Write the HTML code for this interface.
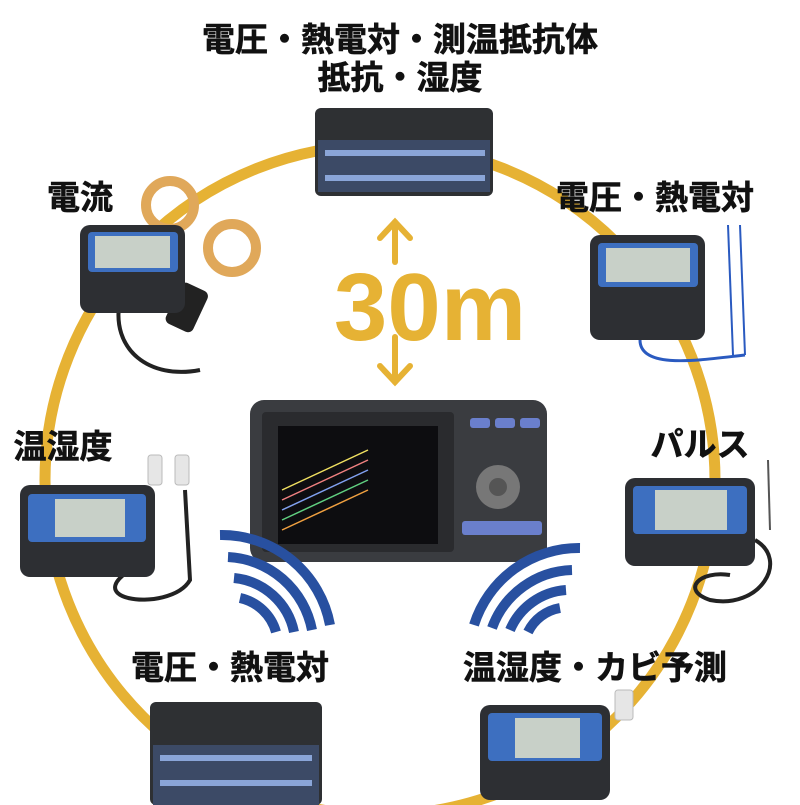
<!DOCTYPE html>
<html><head><meta charset="utf-8"><style>
html,body{margin:0;padding:0;background:#fff;}
svg{display:block}
text{font-family:"Liberation Sans","Noto Sans CJK JP",sans-serif;font-weight:bold;}
</style></head><body>
<svg width="800" height="805" viewBox="0 0 800 805" xmlns="http://www.w3.org/2000/svg">
<circle cx="380" cy="480" r="335" fill="none" stroke="#e6b234" stroke-width="11"/>
<g font-size="33" fill="#111" stroke="#111" stroke-width="0.6">
<text x="400" y="51" text-anchor="middle">電圧・熱電対・測温抵抗体</text>
<text x="400" y="89" text-anchor="middle">抵抗・湿度</text>
<text x="80" y="209" text-anchor="middle">電流</text>
<text x="655" y="209" text-anchor="middle">電圧・熱電対</text>
<text x="63" y="458" text-anchor="middle">温湿度</text>
<text x="700" y="456" text-anchor="middle">パルス</text>
<text x="230" y="679" text-anchor="middle">電圧・熱電対</text>
<text x="595" y="679" text-anchor="middle">温湿度・カビ予測</text>
</g>
<text x="430" y="340" text-anchor="middle" font-size="96" fill="#e6b234" font-family="Liberation Sans,sans-serif">30m</text>
<g stroke="#e6b234" stroke-width="6" fill="none" stroke-linecap="round">
<line x1="395" y1="222" x2="395" y2="262"/><polyline points="380,238 395,222 410,238"/>
<line x1="395" y1="337" x2="395" y2="382"/><polyline points="380,366 395,382 410,366"/>
</g>
<rect x="315" y="108" width="178" height="88" rx="6" fill="#2e3033"/>
<rect x="318" y="140" width="172" height="52" fill="#3c4a66"/>
<g fill="#8aa5d8"><rect x="325" y="150" width="160" height="6"/><rect x="325" y="175" width="160" height="6"/></g>
<rect x="250" y="400" width="297" height="162" rx="14" fill="#3a3c40"/>
<rect x="262" y="412" width="192" height="140" rx="4" fill="#2a2b2e"/>
<rect x="278" y="426" width="160" height="118" fill="#0d0d10"/>
<g stroke-width="1.5">
<line x1="282" y1="490" x2="368" y2="450" stroke="#f0e060"/>
<line x1="282" y1="500" x2="368" y2="460" stroke="#f08080"/>
<line x1="282" y1="510" x2="368" y2="470" stroke="#80a0f0"/>
<line x1="282" y1="520" x2="368" y2="480" stroke="#60d080"/>
<line x1="282" y1="530" x2="368" y2="490" stroke="#f0a040"/>
</g>
<g fill="#6a7fcc"><rect x="470" y="418" width="20" height="10" rx="3"/><rect x="495" y="418" width="20" height="10" rx="3"/><rect x="520" y="418" width="20" height="10" rx="3"/>
<rect x="462" y="521" width="80" height="14" rx="3"/></g>
<circle cx="498" cy="487" r="22" fill="#777"/><circle cx="498" cy="487" r="9" fill="#555"/>
<g fill="none" stroke="#2850a0" stroke-width="10">
<path d="M220,535 A110,110 0 0 1 330,625"/>
<path d="M228,557 A90,90 0 0 1 312,630"/>
<path d="M234,578 A68,68 0 0 1 294,632"/>
<path d="M240,598 A48,48 0 0 1 276,632"/>
<path d="M580,548 A110,110 0 0 0 474,625"/>
<path d="M572,570 A88,88 0 0 0 492,628"/>
<path d="M566,590 A66,66 0 0 0 510,630"/>
<path d="M560,608 A44,44 0 0 0 528,632"/>
</g>
<g>
<circle cx="170" cy="205" r="24" fill="none" stroke="#e0a85a" stroke-width="10"/>
<circle cx="232" cy="248" r="24" fill="none" stroke="#e0a85a" stroke-width="10"/>
<rect x="172" y="285" width="30" height="45" rx="6" fill="#222" transform="rotate(25 187 307)"/>
<path d="M120,300 C110,350 150,380 200,370" fill="none" stroke="#222" stroke-width="4"/>
<rect x="80" y="225" width="105" height="88" rx="10" fill="#2d2f33"/>
<rect x="88" y="232" width="90" height="40" rx="4" fill="#3d6fc0"/>
<rect x="95" y="236" width="75" height="32" fill="#c8d0c8"/>
<line x1="728" y1="225" x2="733" y2="355" stroke="#2a5ac0" stroke-width="2"/>
<line x1="740" y1="225" x2="745" y2="355" stroke="#2a5ac0" stroke-width="2"/>
<path d="M640,340 C640,370 700,360 745,355" fill="none" stroke="#2a5ac0" stroke-width="3"/>
<rect x="590" y="235" width="115" height="105" rx="10" fill="#2d2f33"/>
<rect x="598" y="243" width="100" height="44" rx="4" fill="#3d6fc0"/>
<rect x="606" y="248" width="84" height="34" fill="#c8d0c8"/>
<rect x="148" y="455" width="14" height="30" rx="3" fill="#e6e6e6" stroke="#bbb"/>
<rect x="175" y="455" width="14" height="30" rx="3" fill="#e6e6e6" stroke="#bbb"/>
<path d="M150,560 C60,600 170,615 190,580 L185,490" fill="none" stroke="#222" stroke-width="4"/>
<rect x="20" y="485" width="135" height="92" rx="10" fill="#2d2f33"/>
<rect x="28" y="494" width="118" height="48" rx="4" fill="#3d6fc0"/>
<rect x="55" y="499" width="70" height="38" fill="#c8d0c8"/>
<path d="M755,540 C790,560 760,610 710,600 C680,590 700,570 730,575" fill="none" stroke="#222" stroke-width="4"/>
<line x1="768" y1="460" x2="770" y2="530" stroke="#555" stroke-width="2"/>
<rect x="625" y="478" width="130" height="88" rx="10" fill="#2d2f33"/>
<rect x="633" y="486" width="114" height="48" rx="4" fill="#3d6fc0"/>
<rect x="655" y="490" width="72" height="40" fill="#c8d0c8"/>
<rect x="150" y="702" width="172" height="103" rx="6" fill="#2e3033"/>
<rect x="153" y="745" width="166" height="60" fill="#3c4a66"/>
<g fill="#8aa5d8"><rect x="160" y="755" width="152" height="6"/><rect x="160" y="780" width="152" height="6"/></g>
<rect x="615" y="690" width="18" height="30" rx="3" fill="#e6e6e6" stroke="#bbb"/>
<rect x="480" y="705" width="130" height="95" rx="10" fill="#2d2f33"/>
<rect x="488" y="713" width="114" height="48" rx="4" fill="#3d6fc0"/>
<rect x="515" y="718" width="65" height="40" fill="#c8d0c8"/>
</g>
</svg>
</body></html>
